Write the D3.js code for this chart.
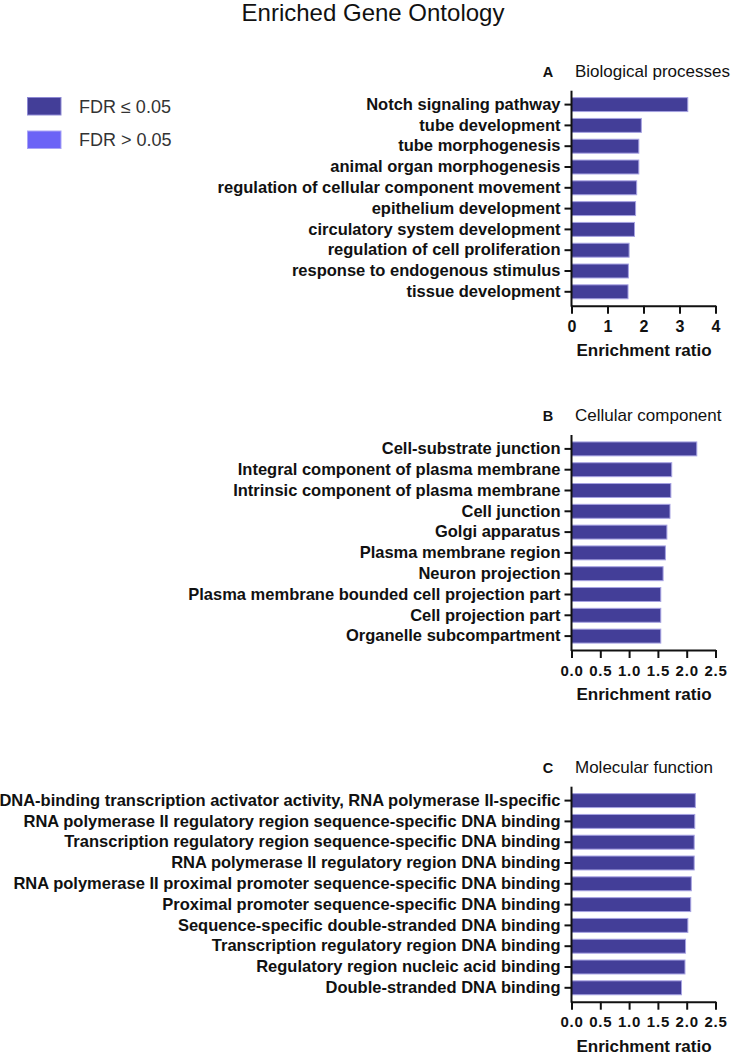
<!DOCTYPE html>
<html>
<head>
<meta charset="utf-8">
<script src="https://cdn.jsdelivr.net/npm/d3@7"></script>
<style>
  html, body { margin: 0; padding: 0; background: #fff; }
  svg { display: block; }
  text { font-family: "Liberation Sans", Arial, Helvetica, sans-serif; fill: #111; }
</style>
</head>
<body>
<svg id="chart" width="733" height="1055"></svg>
<script>
// ---------- data ----------
const bpTerms = [
  "Notch signaling pathway",
  "tube development",
  "tube morphogenesis",
  "animal organ morphogenesis",
  "regulation of cellular component movement",
  "epithelium development",
  "circulatory system development",
  "regulation of cell proliferation",
  "response to endogenous stimulus",
  "tissue development"
];
const bpValues = [3.23, 1.94, 1.87, 1.87, 1.81, 1.78, 1.75, 1.60, 1.58, 1.57];

const ccTerms = [
  "Cell-substrate junction",
  "Integral component of plasma membrane",
  "Intrinsic component of plasma membrane",
  "Cell junction",
  "Golgi apparatus",
  "Plasma membrane region",
  "Neuron projection",
  "Plasma membrane bounded cell projection part",
  "Cell projection part",
  "Organelle subcompartment"
];
const ccValues = [2.175, 1.74, 1.725, 1.71, 1.656, 1.63, 1.59, 1.55, 1.55, 1.55];

const mfTerms = [
  "DNA-binding transcription activator activity, RNA polymerase II-specific",
  "RNA polymerase II regulatory region sequence-specific DNA binding",
  "Transcription regulatory region sequence-specific DNA binding",
  "RNA polymerase II regulatory region DNA binding",
  "RNA polymerase II proximal promoter sequence-specific DNA binding",
  "Proximal promoter sequence-specific DNA binding",
  "Sequence-specific double-stranded DNA binding",
  "Transcription regulatory region DNA binding",
  "Regulatory region nucleic acid binding",
  "Double-stranded DNA binding"
];
const mfValues = [2.15, 2.14, 2.13, 2.13, 2.08, 2.07, 2.02, 1.98, 1.97, 1.91];

const ticksA = [0, 1, 2, 3, 4];
const ticksBC = [0, 0.5, 1.0, 1.5, 2.0, 2.5];

const legendLabels = ["FDR \u2264 0.05", "FDR > 0.05"];
const panelLetters = ["A", "B", "C"];
const panelTitles = ["Biological processes", "Cellular component", "Molecular function"];
const chartTitle = "Enriched Gene Ontology";
const xAxisTitle = "Enrichment ratio";

// ---------- style ----------
const barFill = "#433e98";
const barStroke = "#a6a2e2";
const legendFills = ["#433e98", "#6b63f6"];
const legendStrokes = ["#8e89d4", "#a9a4f6"];

const svg = d3.select("#chart");

// Title
svg.append("text")
  .attr("x", 373).attr("y", 21)
  .attr("text-anchor", "middle")
  .style("font-size", "24px")
  .text(chartTitle);

// Legend
const legend = svg.append("g");
legendLabels.forEach((lab, i) => {
  const y0 = 97.5 + i * 33.5;
  legend.append("rect")
    .attr("x", 27.5).attr("y", y0)
    .attr("width", 33.5).attr("height", 17.5)
    .attr("fill", legendFills[i])
    .attr("stroke", legendStrokes[i]).attr("stroke-width", 1);
  legend.append("text")
    .attr("x", 79).attr("y", y0 + 15)
    .style("font-size", "18px")
    .style("fill", "#333")
    .text(lab);
});

// Panels
const panels = [
  { terms: bpTerms, values: bpValues, ticks: ticksA, max: 4, fmt: d3.format("d"), top: 90.7 },
  { terms: ccTerms, values: ccValues, ticks: ticksBC, max: 2.5, fmt: d3.format(".1f"), top: 435 },
  { terms: mfTerms, values: mfValues, ticks: ticksBC, max: 2.5, fmt: d3.format(".1f"), top: 786.7 }
];

const xLeft = 571.5, xRight = 715.5;
const axisLen = 215;

panels.forEach((p, idx) => {
  const g = svg.append("g");
  const top = p.top, bottom = top + axisLen;

  const x = d3.scaleLinear().domain([0, p.max]).range([xLeft, xRight]);
  const y = d3.scaleBand().domain(p.terms)
    .range([top + 3.5, top + 211.5])
    .paddingInner(0.33).paddingOuter(0.165);

  // panel title
  g.append("text")
    .attr("x", 548).attr("y", top - 14)
    .attr("text-anchor", "middle")
    .style("font-size", "14.5px").style("font-weight", "bold")
    .text(panelLetters[idx]);
  g.append("text")
    .attr("x", 575).attr("y", top - 14)
    .style("font-size", "17px")
    .text(panelTitles[idx]);

  // bars
  g.selectAll("rect.bar")
    .data(p.terms.map((t, i) => ({ term: t, value: p.values[i] })))
    .join("rect")
    .attr("class", "bar")
    .attr("x", x(0))
    .attr("y", d => y(d.term))
    .attr("width", d => x(d.value) - x(0))
    .attr("height", y.bandwidth())
    .attr("fill", barFill)
    .attr("stroke", barStroke)
    .attr("stroke-width", 1);

  // y axis (ticks + labels)
  const yAxis = g.append("g")
    .attr("transform", `translate(${xLeft},0)`)
    .call(d3.axisLeft(y).tickSize(7).tickPadding(4));
  yAxis.select(".domain").remove();
  yAxis.selectAll(".tick line").attr("stroke", "#111").attr("stroke-width", 2);
  yAxis.selectAll(".tick text")
    .style("font-size", "16.5px").style("font-weight", "bold")
    .style("font-family", "'Liberation Sans', Arial, sans-serif")
    .attr("fill", "#111");
  // vertical axis line spanning full height
  g.append("line")
    .attr("x1", xLeft).attr("x2", xLeft)
    .attr("y1", top).attr("y2", bottom + 1)
    .attr("stroke", "#111").attr("stroke-width", 2);

  // x axis
  const xAxis = g.append("g")
    .attr("transform", `translate(0,${bottom})`)
    .call(d3.axisBottom(x).tickValues(p.ticks).tickFormat(p.fmt)
      .tickSize(8).tickSizeOuter(0).tickPadding(7));
  xAxis.select(".domain").attr("stroke", "#111").attr("stroke-width", 2);
  xAxis.selectAll(".tick line").attr("stroke", "#111").attr("stroke-width", 2);
  xAxis.selectAll(".tick text")
    .style("font-size", p.max === 4 ? "16px" : "15px").style("font-weight", "bold")
    .style("letter-spacing", p.max === 4 ? "0px" : "0.8px")
    .style("font-family", "'Liberation Sans', Arial, sans-serif")
    .attr("fill", "#111");

  g.append("text")
    .attr("x", (xLeft + xRight) / 2 + 0.5).attr("y", bottom + 50)
    .attr("text-anchor", "middle")
    .style("font-size", "17px").style("font-weight", "bold")
    .text(xAxisTitle);
});
</script>
</body>
</html>
